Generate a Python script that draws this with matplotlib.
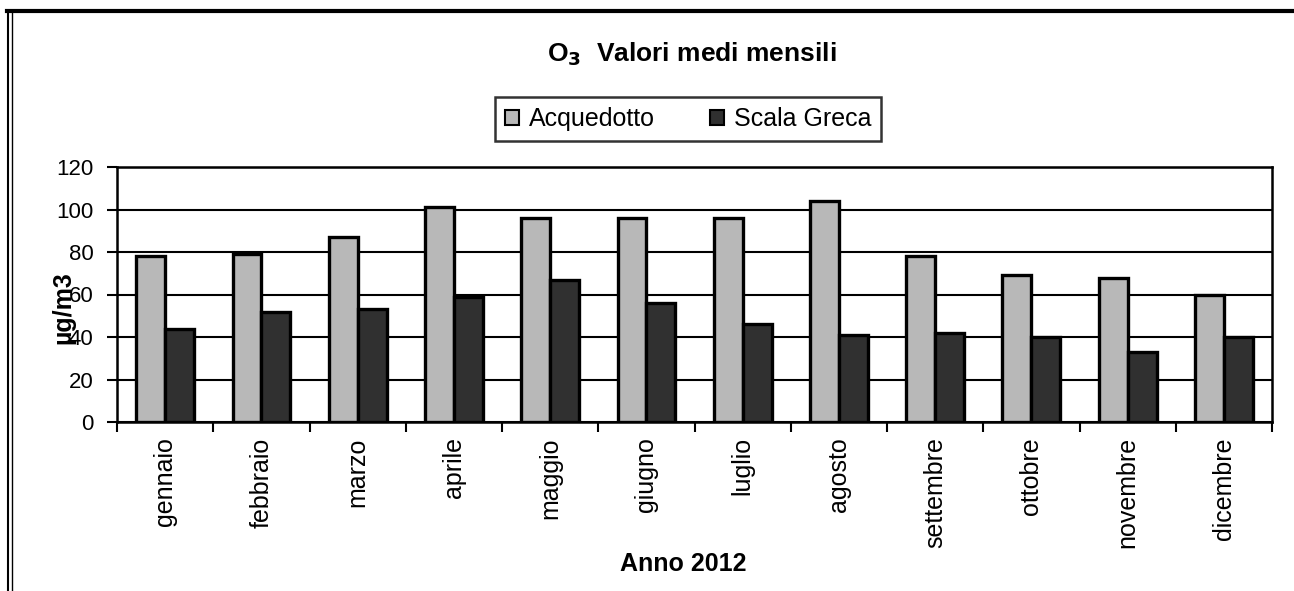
import matplotlib
matplotlib.use("Agg")
import matplotlib.pyplot as plt
import numpy as np
from matplotlib.lines import Line2D

months = ["gennaio", "febbraio", "marzo", "aprile", "maggio", "giugno",
          "luglio", "agosto", "settembre", "ottobre", "novembre", "dicembre"]
acquedotto = [78, 79, 87, 101, 96, 96, 96, 104, 78, 69, 68, 60]
scala_greca = [44, 52, 53, 59, 67, 56, 46, 41, 42, 40, 33, 40]
yticks = [0, 20, 40, 60, 80, 100, 120]

plt.rcParams['font.family'] = ['Liberation Sans', 'DejaVu Sans']

W, H = 1294, 591
fig = plt.figure(figsize=(W / 100, H / 100), dpi=100)
ax = fig.add_axes([117 / W, 1 - 422 / H, (1272 - 117) / W, (422 - 167) / H])

x = np.arange(len(months))
bw = 0.30
ax.bar(x - bw / 2, acquedotto, bw, color="#b8b8b8", edgecolor="black", linewidth=2.4,
       label="Acquedotto", zorder=3)
ax.bar(x + bw / 2, scala_greca, bw, color="#303030", edgecolor="black", linewidth=2.4,
       label="Scala Greca", zorder=3)

ax.set_xlim(-0.5, len(months) - 0.5)
ax.set_ylim(0, 120)
ax.set_yticks(yticks)
ax.set_yticklabels([str(v) for v in yticks], fontsize=16)
ax.yaxis.grid(True, color="black", linewidth=1.5, zorder=0)
ax.set_axisbelow(True)

ax.set_xticks(x)
ax.set_xticklabels(months, rotation=90, fontsize=18)
ax.tick_params(axis="x", length=0, pad=11)
ax.set_xticks(np.arange(-0.5, len(months), 1), minor=True)
ax.tick_params(axis="x", which="minor", length=7, width=1.5, direction="out")
ax.tick_params(axis="y", length=7, width=1.5, direction="out", pad=10)

for s in ax.spines.values():
    s.set_linewidth(1.8)
    s.set_color("black")

ax.set_ylabel("µg/m3", fontsize=18, fontweight="bold")
ax.yaxis.set_label_coords(-0.036, 0.447)

fig.text(683 / W, 1 - 564 / H, "Anno 2012", ha="center", va="center",
         fontsize=18, fontweight="bold")

fig.text(692 / W, 1 - 54 / H, "O$_\\mathbf{3}$  Valori medi mensili", ha="center", va="center",
         fontsize=19, fontweight="bold")

leg = fig.legend(loc="center", bbox_to_anchor=(688 / W, 1 - 119 / H), ncol=2,
                 fontsize=18, frameon=True, fancybox=False, edgecolor="black",
                 handlelength=0.55, handleheight=0.55, handletextpad=0.4,
                 columnspacing=2.2, borderpad=0.4)
leg.get_frame().set_linewidth(1.8)
for h in leg.legend_handles:
    h.set_linewidth(1.5)

# outer frame (top and left)
fig.add_artist(Line2D([7 / W, 1], [1 - 11 / H, 1 - 11 / H], color="black", linewidth=3,
                      transform=fig.transFigure))
fig.add_artist(Line2D([8 / W, 8 / W], [0, 1 - 11 / H], color="black", linewidth=1.5,
                      transform=fig.transFigure))
fig.add_artist(Line2D([12 / W, 12 / W], [0, 1 - 13 / H], color="black", linewidth=1.0,
                      transform=fig.transFigure))

fig.savefig("out.png", dpi=100)
